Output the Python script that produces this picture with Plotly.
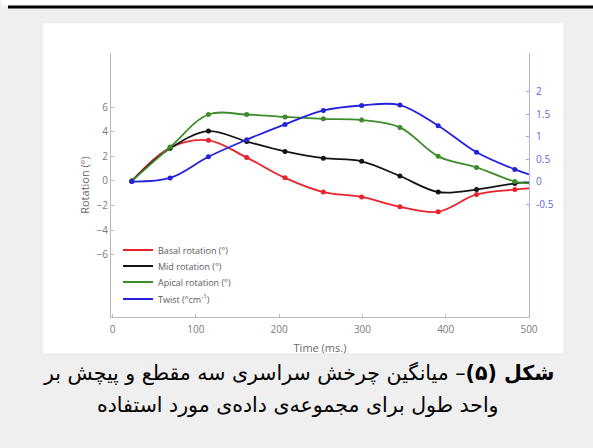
import plotly.graph_objects as go

# ---- data ----
time_ms = [23, 69, 115, 161, 207, 253, 299, 345, 391, 437, 483]
basal = [0.0, 2.7, 3.3, 1.9, 0.25, -0.9, -1.3, -2.1, -2.5, -1.1, -0.7]
mid = [0.0, 2.65, 4.05, 3.2, 2.4, 1.85, 1.6, 0.4, -0.9, -0.7, -0.2]
apical = [0.0, 2.75, 5.4, 5.4, 5.2, 5.05, 4.95, 4.35, 2.0, 1.1, -0.05]
twist = [0.0, 0.08, 0.55, 0.93, 1.27, 1.58, 1.69, 1.70, 1.24, 0.65, 0.27]

end_time = 500
basal_end = -0.6
mid_end = -0.1
apical_end = -0.2
twist_end = 0.16

x_ticks = [0, 100, 200, 300, 400, 500]
left_ticks = [-6, -4, -2, 0, 2, 4, 6]
right_ticks = [-0.5, 0, 0.5, 1, 1.5, 2]
right_tick_text = ["-0.5", "0", "0.5", "1", "1.5", "2"]

series_names = ["Basal rotation (°)", "Mid rotation (°)", "Apical rotation (°)",
                "Twist (°cm<sup>-1</sup>)"]
caption_line1 = "<b>شکل (۵)</b>– میانگین چرخش سراسری سه مقطع و پیچش بر"
caption_line2 = "واحد طول برای مجموعه‌ی داده‌ی مورد استفاده"

colors = ["#e8232a", "#141414", "#3d8c2a", "#2222dd"]

W, H = 593, 448
FIG_W = 603


def px_x(p):
    return p / W


def px_y(p):
    return 1 - p / H


fig = go.Figure()

all_series = [(basal, basal_end, "y"), (mid, mid_end, "y"),
              (apical, apical_end, "y"), (twist, twist_end, "y2")]
legend_ids = ["legend", "legend2", "legend3", "legend4"]
legend_rows = [250, 266, 282, 299]  # pixel centre of each legend row

for (vals, endv, yax), name, col, lg in zip(all_series, series_names, colors, legend_ids):
    fig.add_trace(go.Scatter(
        x=time_ms + [end_time], y=vals + [endv], mode="lines",
        line=dict(color=col, width=1.8, shape="spline", smoothing=1.0),
        name=name, yaxis=yax, showlegend=True, legend=lg, hoverinfo="skip"))
    fig.add_trace(go.Scatter(
        x=time_ms, y=vals, mode="markers",
        marker=dict(color=col, size=5), yaxis=yax, showlegend=False,
        hoverinfo="skip"))

fig.add_hline(y=0, line=dict(color="#9a9a9a", width=1.2, dash="dash"), layer="below")

axis_gray = "#b8b8b8"
tick_font = dict(family="Open Sans, Arial, sans-serif", size=10, color="#7a7a7a")
legend_font = dict(family="Open Sans, Arial, sans-serif", size=9, color="#5a5a5a")

legend_layouts = {}
for lg, row in zip(legend_ids, legend_rows):
    legend_layouts[lg] = dict(x=px_x(117), y=px_y(row), xanchor="left", yanchor="middle",
                              bgcolor="rgba(255,255,255,0)", borderwidth=0,
                              font=legend_font, itemwidth=30)

fig.update_layout(
    width=FIG_W, height=H, autosize=False,
    margin=dict(l=0, r=0, t=0, b=0),
    paper_bgcolor="#efefef", plot_bgcolor="rgba(0,0,0,0)",
    showlegend=True,
    xaxis=dict(domain=[px_x(110), px_x(528)], range=[-2, 500],
               tickvals=x_ticks, ticks="inside", ticklen=3, tickcolor=axis_gray,
               showline=True, linecolor=axis_gray, linewidth=1.2,
               showgrid=False, zeroline=False, tickfont=tick_font,
               ticklabelstandoff=3,
               title=dict(text="Time (ms.)", standoff=9,
                          font=dict(family="Open Sans, Arial, sans-serif", size=11, color="#6a6a6a"))),
    yaxis=dict(domain=[px_y(317), px_y(53)], range=[-11.06, 10.4],
               tickvals=left_ticks, ticks="inside", ticklen=3, tickcolor=axis_gray,
               showline=True, linecolor=axis_gray, linewidth=1.2,
               showgrid=False, zeroline=False, tickfont=tick_font,
               title=dict(text="Rotation (°)", standoff=4,
                          font=dict(family="Open Sans, Arial, sans-serif", size=11, color="#6a6a6a"))),
    yaxis2=dict(overlaying="y", side="right", anchor="x",
                range=[-3.01, 2.856], tickvals=right_ticks, ticktext=right_tick_text,
                ticks="inside", ticklen=3, tickcolor="#a0a0ee",
                showline=True, linecolor="#b0b0f0", linewidth=1.2,
                showgrid=False, zeroline=False, ticklabelstandoff=4,
                tickfont=dict(family="Open Sans, Arial, sans-serif", size=10, color="#6464dc")),
    shapes=[
        dict(type="rect", xref="paper", yref="paper", x0=0, x1=px_x(7),
             y0=0, y1=1, fillcolor="white", line=dict(width=0), layer="below"),
        dict(type="rect", xref="paper", yref="paper", x0=0, x1=1,
             y0=px_y(5.5), y1=1, fillcolor="white", line=dict(width=0), layer="below"),
        dict(type="rect", xref="paper", yref="paper", x0=px_x(7), x1=1,
             y0=px_y(8.5), y1=px_y(5.5), fillcolor="black", line=dict(width=0), layer="below"),
        dict(type="rect", xref="paper", yref="paper", x0=px_x(42), x1=px_x(562),
             y0=px_y(353), y1=px_y(23.5), fillcolor="white", line=dict(width=0), layer="below"),
    ],
    annotations=[
        dict(text=caption_line1, xref="paper", yref="paper", x=px_x(297), y=px_y(373),
             xanchor="center", yanchor="middle", showarrow=False,
             font=dict(family="DejaVu Sans, sans-serif", size=20.5, color="black")),
        dict(text=caption_line2, xref="paper", yref="paper", x=px_x(297), y=px_y(405),
             xanchor="center", yanchor="middle", showarrow=False,
             font=dict(family="DejaVu Sans, sans-serif", size=20.5, color="black")),
    ],
    **legend_layouts,
)

fig.write_html("out.html",
               config={"responsive": False, "displayModeBar": False},
               post_script="document.body.style.margin='0';document.body.style.padding='0';"
                           "document.documentElement.style.overflow='hidden';"
                           "document.body.style.overflow='hidden';")
